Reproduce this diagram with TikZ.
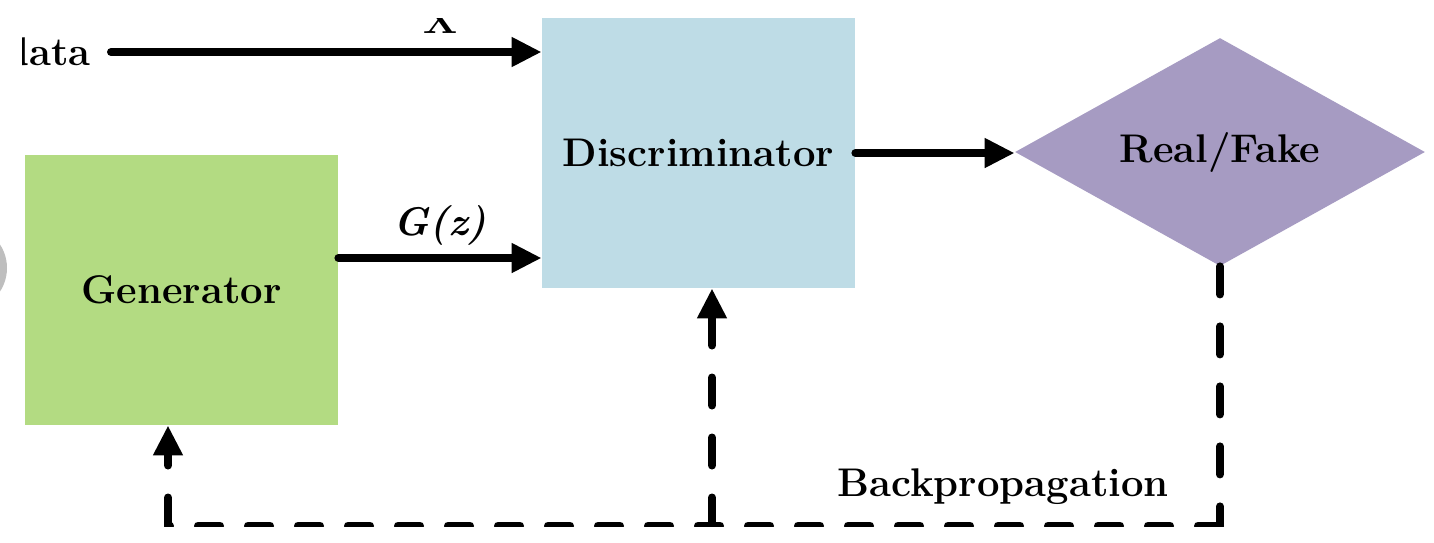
\documentclass[tikz,border=0pt]{standalone}
\usepackage{fontspec}
\usetikzlibrary{arrows.meta,shapes.geometric}
\definecolor{gengreen}{RGB}{179,219,130}
\definecolor{discblue}{RGB}{190,220,230}
\definecolor{rfpurple}{RGB}{166,155,194}
\definecolor{ringgray}{RGB}{190,190,190}
\tikzset{
 txt/.style={font=\fontsize{20pt}{23pt}\selectfont\bfseries, text=black, inner sep=0pt},
 boxnode/.style={txt, rectangle, minimum width=156.5pt, minimum height=135pt},
 arr/.style={line width=4pt, line cap=round, -{Triangle[length=15pt,width=14pt]}},
 dashv/.style={line width=4pt, line cap=round, line join=round, dash pattern=on 14pt off 16pt},
 dashh/.style={line width=4pt, line cap=round, line join=round, dash pattern=on 11pt off 14pt},
}
\begin{document}
\begin{tikzpicture}[x=0.5pt,y=-0.5pt]
\useasboundingbox (0,0) rectangle (1434,542);
\fill[ringgray] (-36,268) circle (21.5pt);
\begin{scope}
\clip (22,18) rectangle (1434,526.5);
\node[boxnode, fill=gengreen] (gen) at (181.5,290) {Generator};
\node[boxnode, fill=discblue] (disc) at (698.5,153) {Discriminator};
\node[txt, diamond, aspect=2, fill=rfpurple, minimum width=205pt, minimum height=114pt] (rf) at (1220,152) {Real/Fake};
\node[txt, anchor=east] (data) at (91,52) {data};
\node[txt, anchor=base] (xl) at (440,33) {X};
\node[txt, anchor=base] (gzl) at (440,235) {\textit{G(z)}};
\node[txt, anchor=base] (bp) at (1003,496) {Backpropagation};
\coordinate (gz) at (440,258);
\coordinate (br) at (1220,525.5);
\coordinate (bm) at (712,525.5);
\coordinate (bl) at (168,525.5);
\draw[arr, shorten <=10pt] (data.east) -- (data.east -| disc.west);
\draw[arr] (gen.east |- gz) -- (disc.west |- gz);
\draw[arr] (disc.east) -- (disc.east -| rf.west);
\draw[dashv] (rf.south) -- (br);
\draw[dashh] (br) -- (bl);
\draw[dashv, arr] (bl) -- (bl |- gen.south);
\draw[dashv, arr] (bm) -- (bm |- disc.south);
\end{scope}
\end{tikzpicture}
\end{document}
